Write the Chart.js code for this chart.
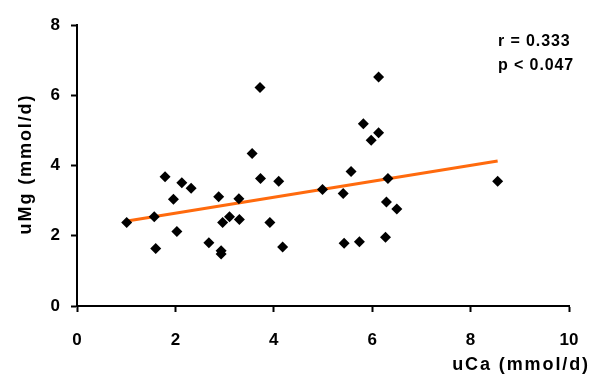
<!DOCTYPE html>
<html lang="en">
<head>
    <meta charset="UTF-8">
    <title>uMg vs uCa</title>
    <script src="https://cdn.jsdelivr.net/npm/chart.js"></script>
    <style>
        body { margin: 0; background: #fff; }
        #wrap { width: 592px; height: 379px; position: relative; }
    </style>
</head>
<body>
    <div id="wrap"><canvas id="scatterChart"></canvas></div>

    <script>
        // data
        const uCa = [1.01, 1.57, 1.60, 1.79, 1.96, 2.03, 2.13, 2.32, 2.68, 2.88, 2.93, 2.93,
                     2.96, 3.10, 3.29, 3.30, 3.56, 3.72, 3.73, 3.92, 4.10, 4.18, 4.99, 5.41,
                     5.43, 5.57, 5.74, 5.82, 5.98, 6.13, 6.13, 6.27, 6.29, 6.32, 6.50, 8.55];
        const uMg = [2.38, 2.54, 1.64, 3.68, 3.04, 2.12, 3.51, 3.35, 1.80, 3.11, 1.57, 1.48,
                     2.38, 2.54, 3.05, 2.46, 4.34, 6.22, 3.63, 2.38, 3.55, 1.68, 3.32, 3.20,
                     1.79, 3.83, 1.83, 5.19, 4.72, 4.93, 6.52, 1.96, 2.96, 3.63, 2.76, 3.55];
        const trendX = [1.02, 8.55];
        const trendY = [2.42, 4.13];
        const xTicks = [0, 2, 4, 6, 8, 10];
        const yTicks = [0, 2, 4, 6, 8];
        const xTitle = 'uCa (mmol/d)';
        const yTitle = 'uMg (mmol/d)';
        const statLines = ['r = 0.333', 'p < 0.047'];

        const FONT = "Arial, 'Liberation Sans', sans-serif";

        const points = uCa.map((x, i) => ({ x: x, y: uMg[i] }));
        const trend = trendX.map((x, i) => ({ x: x, y: trendY[i] }));

        // titles and r/p text drawn by hand (original has wide letter spacing)
        const textPlugin = {
            id: 'texts',
            afterDraw(chart) {
                const ctx = chart.ctx;
                ctx.save();
                ctx.fillStyle = '#000';

                ctx.font = 'bold 18px ' + FONT;
                ctx.letterSpacing = '1.9px';
                ctx.textAlign = 'right';
                ctx.textBaseline = 'alphabetic';
                ctx.fillText(xTitle, 590, 370);

                ctx.save();
                ctx.translate(26, 165);
                ctx.rotate(-Math.PI / 2);
                ctx.textAlign = 'center';
                ctx.textBaseline = 'middle';
                ctx.fillText(yTitle, 1, 0);
                ctx.restore();

                ctx.font = 'bold 16px ' + FONT;
                ctx.letterSpacing = '0.9px';
                ctx.textAlign = 'left';
                ctx.fillText(statLines[0], 498, 46);
                ctx.fillText(statLines[1], 498, 70);
                ctx.restore();
            }
        };

        const axisStyle = {
            grid: { drawOnChartArea: false, drawTicks: true, tickLength: 6, tickColor: '#000', tickWidth: 2 },
            border: { color: '#000', width: 2 }
        };

        new Chart(document.getElementById('scatterChart'), {
            type: 'scatter',
            data: {
                datasets: [{
                    label: 'trend',
                    data: trend,
                    showLine: true,
                    borderColor: '#ff6a0d',
                    borderWidth: 3,
                    pointRadius: 0,
                    order: 2
                }, {
                    label: 'uMg',
                    data: points,
                    pointStyle: 'rectRot',
                    pointRadius: 5.5,
                    backgroundColor: '#000',
                    borderColor: '#000',
                    borderWidth: 0,
                    order: 1
                }]
            },
            options: {
                responsive: true,
                maintainAspectRatio: false,
                animation: false,
                layout: { padding: { top: 25, right: 23, left: 0, bottom: 0 } },
                plugins: { legend: { display: false }, tooltip: { enabled: false } },
                scales: {
                    x: {
                        type: 'linear',
                        min: xTicks[0],
                        max: xTicks[xTicks.length - 1],
                        afterBuildTicks: axis => { axis.ticks = xTicks.map(v => ({ value: v })); },
                        afterFit: axis => {
                            axis.height = 73;
                            axis.paddingLeft = 0;
                            axis.paddingRight = 0;
                        },
                        ticks: { color: '#000', font: { family: FONT, size: 17, weight: 'bold' }, padding: 18, maxRotation: 0 },
                        ...axisStyle
                    },
                    y: {
                        type: 'linear',
                        min: yTicks[0],
                        max: yTicks[yTicks.length - 1],
                        afterBuildTicks: axis => { axis.ticks = yTicks.map(v => ({ value: v })); },
                        afterFit: axis => { axis.width = 77; },
                        ticks: { color: '#000', font: { family: FONT, size: 17, weight: 'bold' }, padding: 11 },
                        ...axisStyle
                    }
                }
            },
            plugins: [textPlugin]
        });
    </script>
</body>
</html>
